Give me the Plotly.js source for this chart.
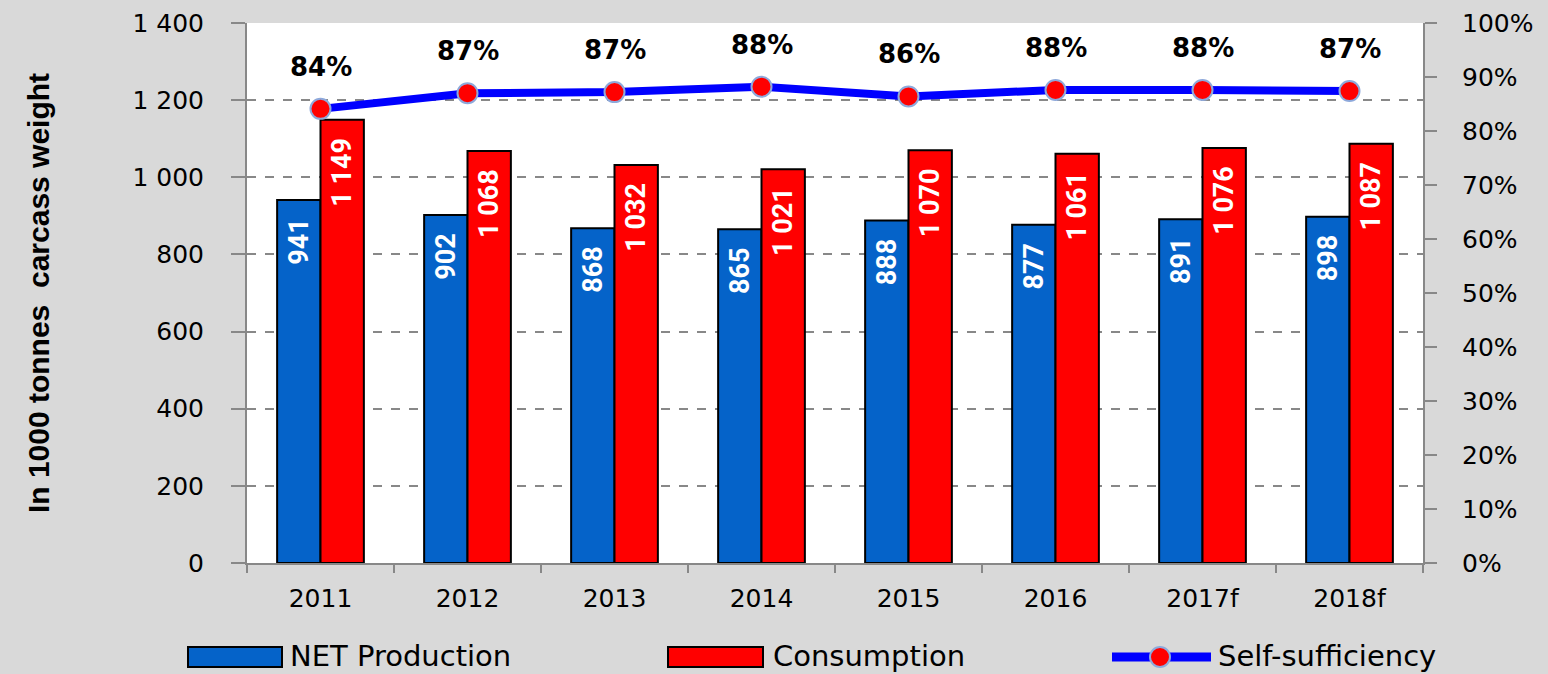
<!DOCTYPE html>
<html>
<head>
<meta charset="utf-8">
<script src="https://cdn.plot.ly/plotly-3.0.1.min.js"></script>
<style>html,body{margin:0;padding:0;background:#d9d9d9;}#chart{width:1548px;height:674px;}</style>
</head>
<body>
<div id="chart"></div>
<script>
const years = ["2011","2012","2013","2014","2015","2016","2017f","2018f"];
const production = [941, 902, 868, 865, 888, 877, 891, 898];
const consumption = [1149, 1068, 1032, 1021, 1070, 1061, 1076, 1087];
const selfSufficiency = [0.841, 0.870, 0.872, 0.882, 0.864, 0.876, 0.876, 0.874];
const leftTicks = [0, 200, 400, 600, 800, 1000, 1200, 1400];
const seriesNames = ["NET Production", "Consumption", "Self-sufficiency"];

const fmt = v => String(v).replace(/\B(?=(\d{3})+(?!\d))/g, " ");
const barLabel = v => fmt(v) + "\u2007";

const tickFont = {family: "DejaVu Sans, Verdana, sans-serif", size: 25, color: "#000"};
const barTextFont = {family: "Roboto, sans-serif", size: 27, color: "#fff", weight: "bold"};

const W = 1548, H = 674, L = 247, R = 125, T = 23, B = 111;
const pw = W - L - R, ph = H - T - B;
const px = v => (v - L) / pw;
const py = v => (H - B - v) / ph;

const traces = [
  {type: "bar", x: years, y: production, name: seriesNames[0],
   marker: {color: "#0563c9", line: {color: "#000", width: 2}},
   text: production.map(barLabel), textposition: "inside", insidetextanchor: "end",
   textangle: -90, textfont: barTextFont, showlegend: false},
  {type: "bar", x: years, y: consumption, name: seriesNames[1],
   marker: {color: "#ff0000", line: {color: "#000", width: 2}},
   text: consumption.map(barLabel), textposition: "inside", insidetextanchor: "end",
   textangle: -90, textfont: barTextFont, showlegend: false},
  {type: "scatter", mode: "lines+markers", x: years, y: selfSufficiency, yaxis: "y2",
   name: seriesNames[2],
   line: {color: "#0000ff", width: 8},
   marker: {color: "#ff0000", size: 20, line: {color: "#8ea9db", width: 2}},
   cliponaxis: false, showlegend: false}
];

const annotations = years.map((yr, i) => ({
  x: i, y: selfSufficiency[i], xref: "x", yref: "y2",
  text: Math.round(selfSufficiency[i] * 100) + "%", showarrow: false, yshift: 42,
  font: {family: "DejaVu Sans, Verdana, sans-serif", size: 26, color: "#000", weight: "bold"}
}));

const legendFont = {family: "DejaVu Sans, sans-serif", size: 29, color: "#000"};
annotations.push(
  {xref: "paper", yref: "paper", x: px(288), y: py(656), xanchor: "left", yanchor: "middle", text: seriesNames[0], showarrow: false, font: legendFont},
  {xref: "paper", yref: "paper", x: px(771), y: py(656), xanchor: "left", yanchor: "middle", text: seriesNames[1], showarrow: false, font: legendFont},
  {xref: "paper", yref: "paper", x: px(1216), y: py(656), xanchor: "left", yanchor: "middle", text: seriesNames[2], showarrow: false, font: legendFont}
);

const shapes = [
  {type: "rect", xref: "paper", yref: "paper", x0: px(188), x1: px(282), y0: py(667), y1: py(647), fillcolor: "#0563c9", line: {color: "#000", width: 2}},
  {type: "rect", xref: "paper", yref: "paper", x0: px(668), x1: px(763), y0: py(667), y1: py(647), fillcolor: "#ff0000", line: {color: "#000", width: 2}},
  {type: "line", xref: "paper", yref: "paper", x0: px(1112), x1: px(1211), y0: py(657), y1: py(657), line: {color: "#0000ff", width: 9}},
  {type: "circle", xref: "paper", yref: "paper", x0: px(1150), x1: px(1170), y0: py(667), y1: py(647), fillcolor: "#ff0000", line: {color: "#8ea9db", width: 2}}
];

const layout = {
  width: W, height: H,
  margin: {l: L, r: R, t: T, b: B, pad: 0},
  paper_bgcolor: "#d9d9d9", plot_bgcolor: "#ffffff",
  barmode: "group", bargap: 0.41, bargroupgap: 0,
  showlegend: false,
  xaxis: {
    type: "category", tickfont: tickFont, showgrid: false,
    showline: true, linecolor: "#888", linewidth: 2,
    ticks: "outside", tickson: "boundaries", ticklen: 8, tickcolor: "#888", tickwidth: 2,
    ticklabelstandoff: 12,
    zeroline: false, tickangle: 0
  },
  yaxis: {
    range: [0, 1400], tickvals: leftTicks, ticktext: leftTicks.map(fmt), tickfont: tickFont,
    showgrid: true, gridcolor: "#888", griddash: "dash", gridwidth: 2,
    showline: true, linecolor: "#888", linewidth: 2,
    ticks: "outside", ticklen: 14, tickcolor: "#888", tickwidth: 2,
    ticklabelstandoff: 22,
    zeroline: false,
    title: {text: "In 1000 tonnes  carcass weight", standoff: 74,
            font: {family: "Liberation Sans Narrow, Arial Narrow, Liberation Sans, sans-serif", size: 30, color: "#000", weight: "bold"}}
  },
  yaxis2: {
    overlaying: "y", side: "right", range: [0, 1], dtick: 0.1, tickformat: ".0%",
    tickfont: tickFont, showgrid: false, zeroline: false,
    showline: true, linecolor: "#888", linewidth: 2,
    ticks: "outside", ticklen: 12, tickcolor: "#888", tickwidth: 2,
    ticklabelstandoff: 20
  },
  annotations: annotations,
  shapes: shapes
};

Plotly.newPlot("chart", traces, layout, {displayModeBar: false, staticPlot: true});
</script>
</body>
</html>
